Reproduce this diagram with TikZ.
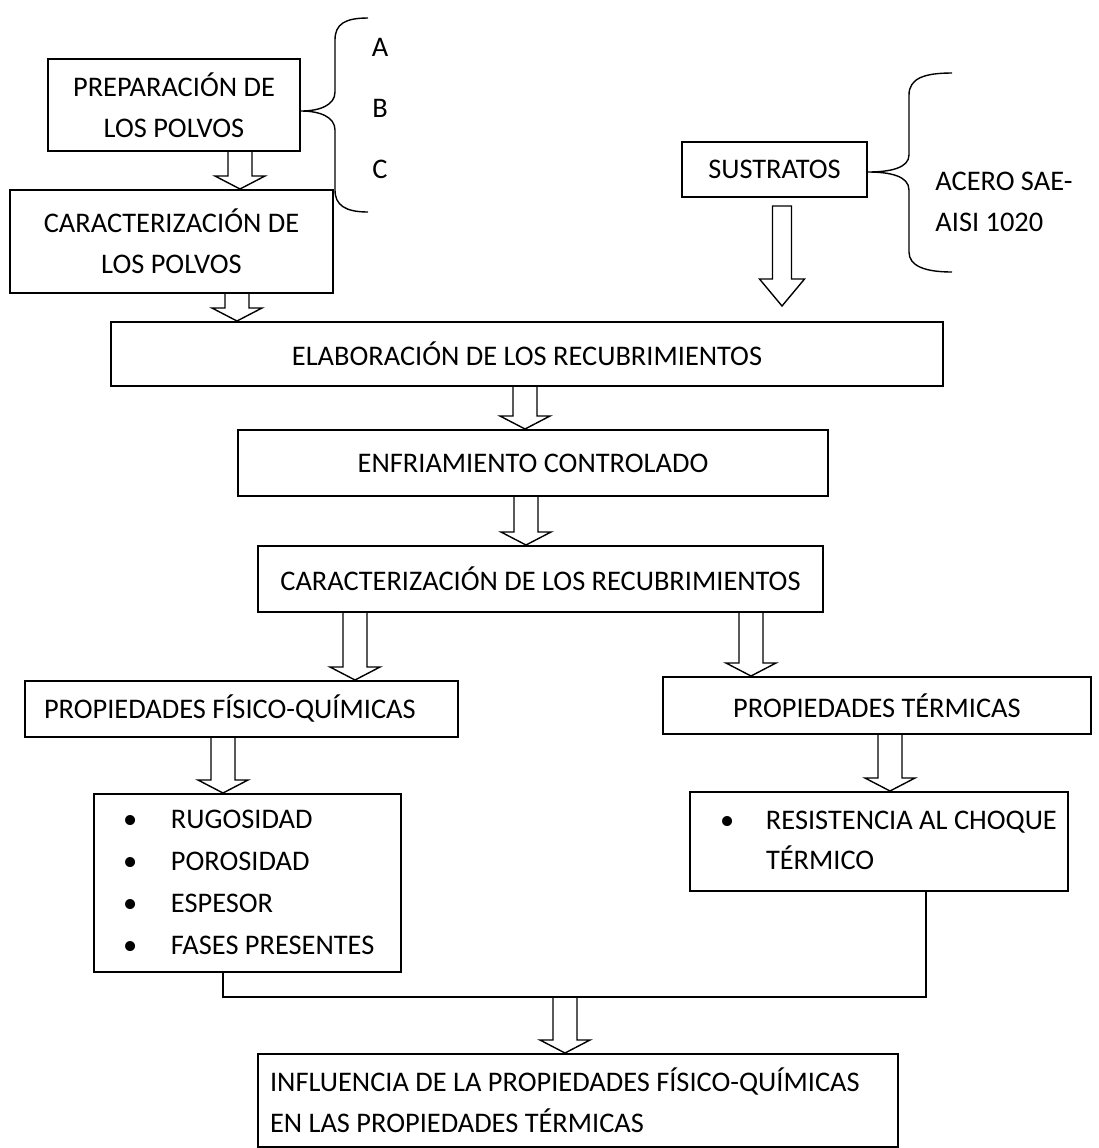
\documentclass[tikz,border=0pt]{standalone}
\usepackage{fontspec}
\setmainfont{Carlito}
\usetikzlibrary{positioning,calc}

\newcommand{\diagfont}{\fontsize{14.2pt}{20.5pt}\selectfont}
\newcommand{\shaftw}{6pt}
\newcommand{\headw}{12.5pt}
\newcommand{\headl}{6.5pt}
% hollow down arrow: x position, start anchor, tip anchor
\newcommand{\blockarrow}[3]{%
  \draw[arrowline] let \p1=(#2), \p2=(#3), \p3=(#1,0) in
    (\x3-\shaftw,\y1) -- (\x3-\shaftw,\y2+\headl) -- (\x3-\headw,\y2+\headl)
    -- (\x3,\y2) -- (\x3+\headw,\y2+\headl) -- (\x3+\shaftw,\y2+\headl)
    -- (\x3+\shaftw,\y1);}

\begin{document}
\begin{tikzpicture}[
    x=0.5pt, y=-0.5pt,
    box/.style={draw, line width=1pt, inner sep=0pt, align=center, font=\diagfont},
    lbox/.style={box, align=flush left},
    arrowline/.style={line width=0.7pt, line join=miter},
    bracket/.style={line width=0.7pt},
    link/.style={line width=1pt},
    tag/.style={font=\diagfont, inner sep=0pt}
]
\fill[white] (0,0) rectangle (1099,1148);
\useasboundingbox (0,0) rectangle (1099,1148);

% Powders
\node[box, minimum width=126pt, minimum height=46pt] (prep) at (174,105) {PREPARACIÓN DE\\LOS POLVOS};
\node[box, minimum width=161.5pt, minimum height=51.5pt] (cdp) at (171.5,241.5) {CARACTERIZACIÓN DE\\LOS POLVOS};

% Brace A B C
\draw[bracket] (368,18) .. controls (345,18) and (335,24) .. (335,40) -- (335,92)
  .. controls (335,105) and (320,111) .. (prep.east |- 0,111)
  .. controls (320,111) and (335,117) .. (335,130) -- (335,190)
  .. controls (335,205) and (345,212) .. (368,212);
\node[tag] (lA) at (380,47) {A};
\node[tag] (lB) at (380,108) {B};
\node[tag] (lC) at (380,169) {C};

% Substrates
\node[box, minimum width=92.5pt, minimum height=27.5pt] (sus) at (774.5,169.5) {SUSTRATOS};
\draw[bracket] (952,73) .. controls (925,73) and (909,78) .. (909,95) -- (909,155)
  .. controls (909,168) and (890,172) .. (sus.east |- 0,172)
  .. controls (890,172) and (909,176) .. (909,190) -- (909,252)
  .. controls (909,266) and (925,272) .. (952,272);
\node[tag, anchor=west, align=flush left] (acero) at (935,202) {ACERO SAE-\\AISI 1020};

% Process
\node[box, minimum width=416pt, minimum height=32pt] (elab) at (527,354) {ELABORACIÓN DE LOS RECUBRIMIENTOS};
\node[box, minimum width=295pt, minimum height=33pt] (enf) at (533,463) {ENFRIAMIENTO CONTROLADO};
\node[box, minimum width=282.5pt, minimum height=33pt] (cdr) at (540.5,579) {CARACTERIZACIÓN DE LOS RECUBRIMIENTOS};

% Properties
\node[lbox, inner xsep=9.5pt, text width=197.5pt, minimum height=28pt] (pfq) at (241.5,709) {PROPIEDADES FÍSICO-QUÍMICAS};
\node[box, minimum width=214pt, minimum height=28.5pt] (pt) at (877,705.5) {PROPIEDADES TÉRMICAS};

% Lists
\node[lbox, inner xsep=14.5pt, text width=124.5pt, minimum height=89pt] (lst1) at (247.5,883)
  {\renewcommand{\arraystretch}{1.03}\begin{tabular}{@{}p{24pt}@{}l@{}}
  •&RUGOSIDAD\\ •&POROSIDAD\\ •&ESPESOR\\ •&FASES PRESENTES\end{tabular}};
\node[lbox, inner xsep=15pt, text width=159pt, minimum height=49.5pt] (lst2) at (879,841.5)
  {\renewcommand{\arraystretch}{0.98}\begin{tabular}{@{}p{23pt}@{}l@{}}
  •&RESISTENCIA AL CHOQUE\\ &TÉRMICO\end{tabular}};

% Result
\node[lbox, inner xsep=6pt, text width=308pt, minimum height=46.5pt] (infl) at (578,1100.5)
  {INFLUENCIA DE LA PROPIEDADES FÍSICO-QUÍMICAS\\EN LAS PROPIEDADES TÉRMICAS};

% Joining line
\coordinate (jl) at (223,997);
\coordinate (jr) at (926,997);
\coordinate (join) at (565,997);
\draw[link] (lst1.south -| jl) -- (jl) -- (jr) -- (lst2.south -| jr);

% Arrows
\blockarrow{240}{prep.south}{cdp.north}
\blockarrow{237}{cdp.south}{elab.north}
\blockarrow{525}{elab.south}{enf.north}
\blockarrow{526}{enf.south}{cdr.north}
\blockarrow{355}{cdr.south}{pfq.north}
\blockarrow{751}{cdr.south}{pt.north}
\blockarrow{223}{pfq.south}{lst1.north}
\blockarrow{890}{pt.south}{lst2.north}
\blockarrow{565}{join}{infl.north}
\draw[arrowline] let \p1=(sus.south), \p2=(782,0) in
  (\x2-4.75pt,\y1-4pt) -- (\x2-4.75pt,\y1-40.5pt) -- (\x2-11.25pt,\y1-40.5pt)
  -- (\x2,\y1-54pt) -- (\x2+11.25pt,\y1-40.5pt) -- (\x2+4.75pt,\y1-40.5pt)
  -- (\x2+4.75pt,\y1-4pt) -- cycle;

\end{tikzpicture}
\end{document}
